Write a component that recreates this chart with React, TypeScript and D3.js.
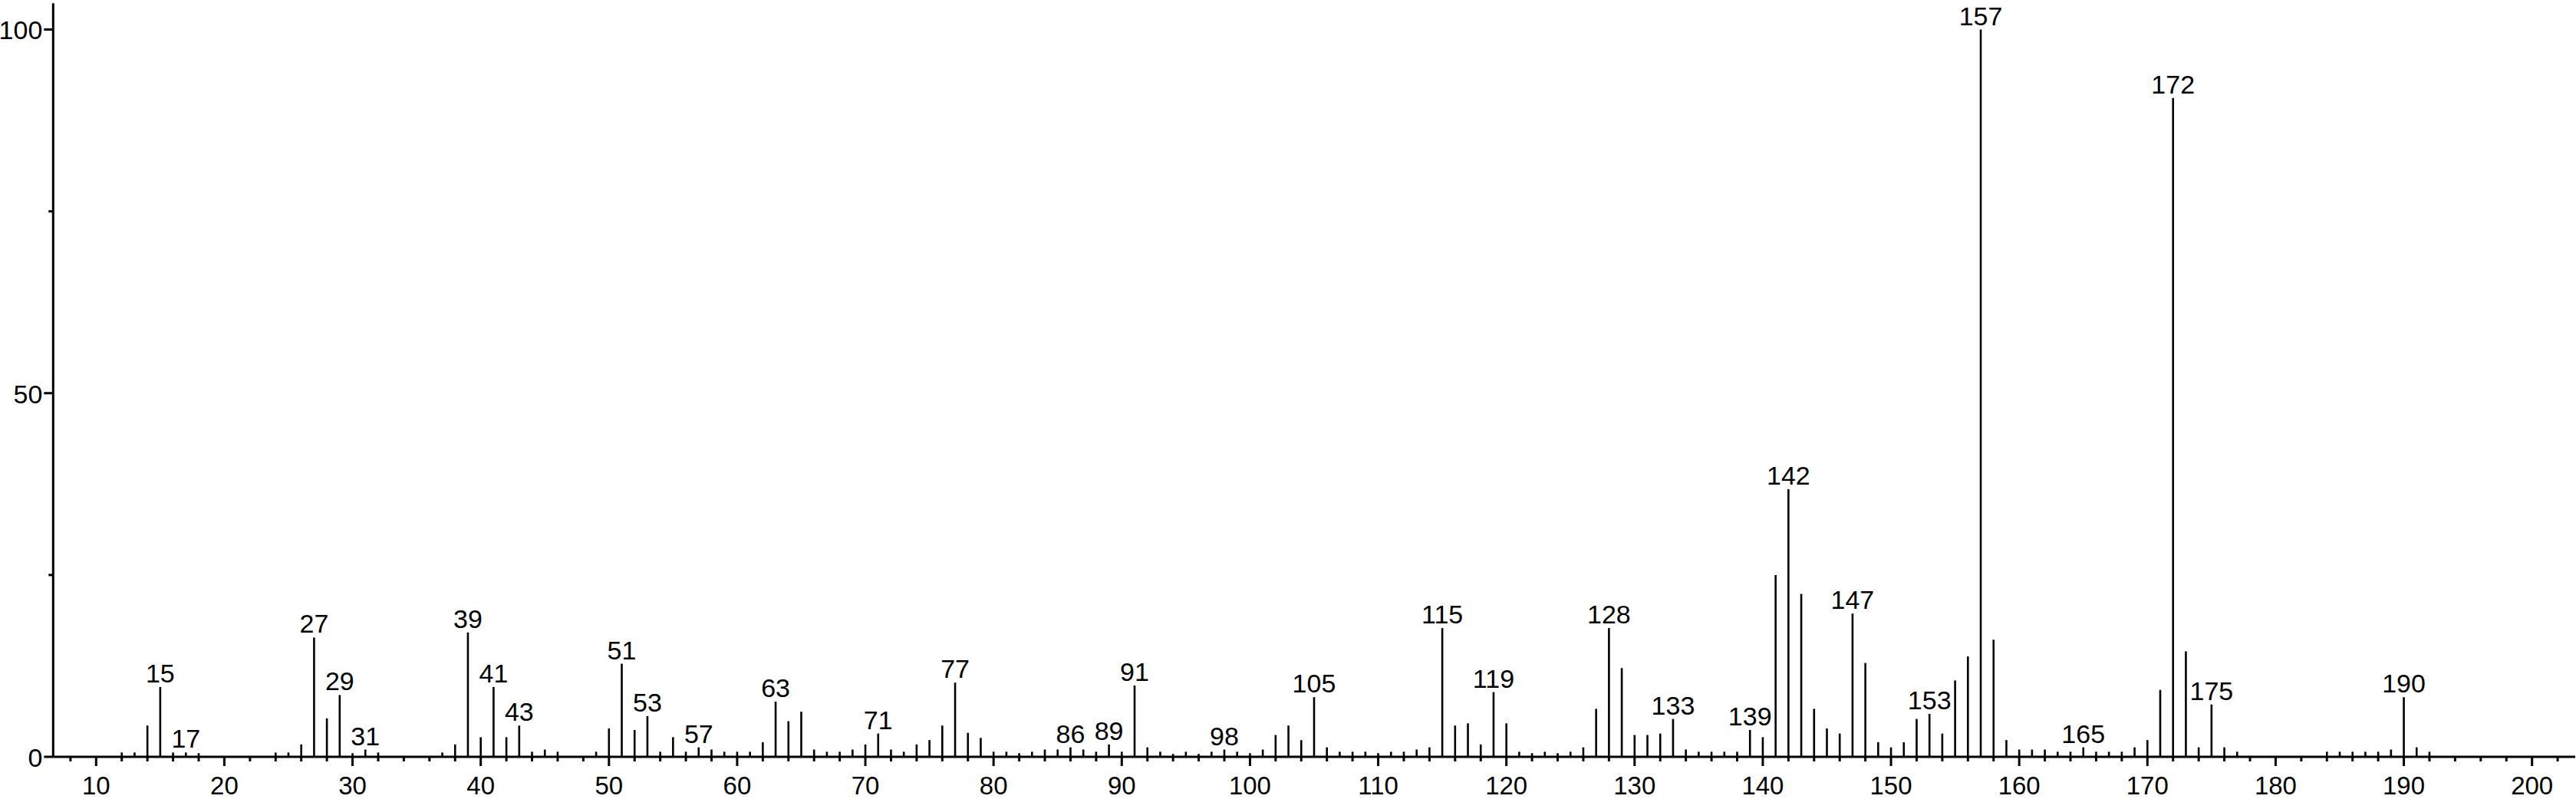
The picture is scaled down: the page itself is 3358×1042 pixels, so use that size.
import React from "react";
import * as d3 from "d3";

// m/z values and relative intensities (%)
const mzValues: number[] = [
  12, 13, 14, 15, 16, 17, 18, 24, 25, 26, 27, 28, 29, 30, 31, 32, 37, 38, 39, 40,
  41, 42, 43, 44, 45, 46, 49, 50, 51, 52, 53, 54, 55, 56, 57, 58, 59, 60, 61, 62,
  63, 64, 65, 66, 67, 68, 69, 70, 71, 72, 73, 74, 75, 76, 77, 78, 79, 80, 81, 82,
  83, 84, 85, 86, 87, 88, 89, 90, 91, 92, 93, 94, 95, 96, 97, 98, 99, 100, 101, 102,
  103, 104, 105, 106, 107, 108, 109, 110, 111, 112, 113, 114, 115, 116, 117, 118, 119, 120, 121, 122,
  123, 124, 125, 126, 127, 128, 129, 130, 131, 132, 133, 134, 135, 136, 137, 138, 139, 140, 141, 142,
  143, 144, 145, 146, 147, 148, 149, 150, 151, 152, 153, 154, 155, 156, 157, 158, 159, 160, 161, 162,
  163, 164, 165, 166, 167, 168, 169, 170, 171, 172, 173, 174, 175, 176, 177, 184, 185, 186, 187, 188,
  189, 190, 191, 192,
];

const intensities: number[] = [
  0.6, 0.6, 4.3, 9.6, 0.6, 0.6, 0.5, 0.6, 0.6, 1.7, 16.4, 5.3, 8.5, 0.5, 1.0, 0.6, 0.6, 1.7, 17.1, 2.7,
  9.6, 2.7, 4.3, 0.7, 1.0, 0.7, 0.7, 3.9, 12.8, 3.7, 5.6, 0.7, 2.7, 0.7, 1.3, 1.0, 0.7, 0.7, 0.7, 2.0,
  7.6, 4.9, 6.2, 1.0, 0.7, 0.7, 1.0, 1.7, 3.2, 1.0, 0.7, 1.7, 2.3, 4.3, 10.2, 3.3, 2.6, 0.7, 0.7, 0.5,
  0.7, 1.0, 1.0, 1.3, 1.0, 0.7, 1.7, 0.7, 9.8, 1.3, 0.7, 0.4, 0.7, 0.4, 0.7, 1.0, 0.7, 0.5, 1.0, 3.0,
  4.3, 2.3, 8.2, 1.3, 0.7, 0.7, 0.7, 0.5, 0.7, 0.7, 1.0, 1.3, 17.7, 4.3, 4.6, 1.7, 8.9, 4.6, 0.7, 0.5,
  0.7, 0.5, 0.7, 1.3, 6.6, 17.7, 12.2, 3.0, 3.0, 3.2, 5.2, 1.0, 0.7, 0.7, 0.7, 0.7, 3.7, 2.7, 25.0, 36.8,
  22.4, 6.6, 3.9, 3.2, 19.7, 12.9, 2.0, 1.3, 2.0, 5.2, 5.9, 3.2, 10.5, 13.8, 100, 16.1, 2.3, 1.0, 1.0, 1.0,
  0.7, 0.7, 1.3, 0.7, 0.7, 0.7, 1.3, 2.3, 9.2, 90.6, 14.5, 1.3, 7.2, 1.3, 0.7, 0.7, 0.7, 0.7, 0.7, 0.7,
  1.0, 8.2, 1.3, 0.7,
];

const labeledPeaks: number[] = [
  15, 17, 27, 29, 31, 39, 41, 43, 51, 53, 57, 63, 71, 77, 86, 89, 91, 98, 105,
  115, 119, 128, 133, 139, 142, 147, 153, 157, 165, 172, 175, 190,
];

const xMajorTicks: number[] = [10, 20, 30, 40, 50, 60, 70, 80, 90, 100, 110, 120, 130, 140, 150, 160, 170, 180, 190, 200];
const yMajorTicks: number[] = [0, 50, 100];
const yMinorTicks: number[] = [25, 75];

const W = 3358;
const H = 1042;
const FONT = "'Liberation Sans', Arial, Helvetica, sans-serif";

export default function App() {
  const x = d3.scaleLinear().domain([6.649, 203.37]).range([69.3, 3357]);
  const y = d3.scaleLinear().domain([0, 100]).range([987, 38.5]);
  const xMinorTicks = d3.range(8, 204, 2).filter((v) => v % 10 !== 0);
  const peaks = mzValues.map((m, i) => ({ m, v: intensities[i] }));
  const byMz = new Map(peaks.map((p) => [p.m, p.v]));
  const x0 = x.range()[0];
  const x1 = x.range()[1];
  const y0 = y(0);

  return (
    <svg
      width={W}
      height={H}
      style={{ position: "absolute", left: 0, top: 0, display: "block", background: "#fff" }}
      fontFamily={FONT}
    >
      <rect x={0} y={0} width={W} height={H} fill="#fff" />
      {/* peaks */}
      <g stroke="#000" strokeWidth={2.6}>
        {peaks.map((p) => (
          <line key={p.m} x1={x(p.m)} x2={x(p.m)} y1={y0} y2={y(p.v)} />
        ))}
      </g>
      {/* x axis */}
      <line x1={x0} x2={x1} y1={y0} y2={y0} stroke="#000" strokeWidth={3} />
      <g stroke="#000" strokeWidth={3}>
        {xMajorTicks.map((t) => (
          <line key={t} x1={x(t)} x2={x(t)} y1={y0} y2={y0 + 12} />
        ))}
        {xMinorTicks.map((t) => (
          <line key={t} x1={x(t)} x2={x(t)} y1={y0} y2={y0 + 6} />
        ))}
      </g>
      <g fontSize={33} textAnchor="middle" fill="#000">
        {xMajorTicks.map((t) => (
          <text key={t} x={x(t)} y={1036}>
            {t}
          </text>
        ))}
      </g>
      {/* y axis */}
      <line x1={x0} x2={x0} y1={y0} y2={y(103.6)} stroke="#000" strokeWidth={3} />
      <g stroke="#000" strokeWidth={3}>
        {yMajorTicks.map((t) => (
          <line key={t} x1={x0 - 12} x2={x0} y1={y(t)} y2={y(t)} />
        ))}
        {yMinorTicks.map((t) => (
          <line key={t} x1={x0 - 6} x2={x0} y1={y(t)} y2={y(t)} />
        ))}
      </g>
      <g fontSize={34} textAnchor="end" fill="#000">
        {yMajorTicks.map((t) => (
          <text key={t} x={x0 - 14} y={y(t)} dy="0.38em">
            {t}
          </text>
        ))}
      </g>
      {/* peak labels */}
      <g fontSize={34} textAnchor="middle" fill="#000">
        {labeledPeaks.map((m) => (
          <text key={m} x={x(m)} y={y(byMz.get(m) ?? 0) - 6}>
            {m}
          </text>
        ))}
      </g>
    </svg>
  );
}
